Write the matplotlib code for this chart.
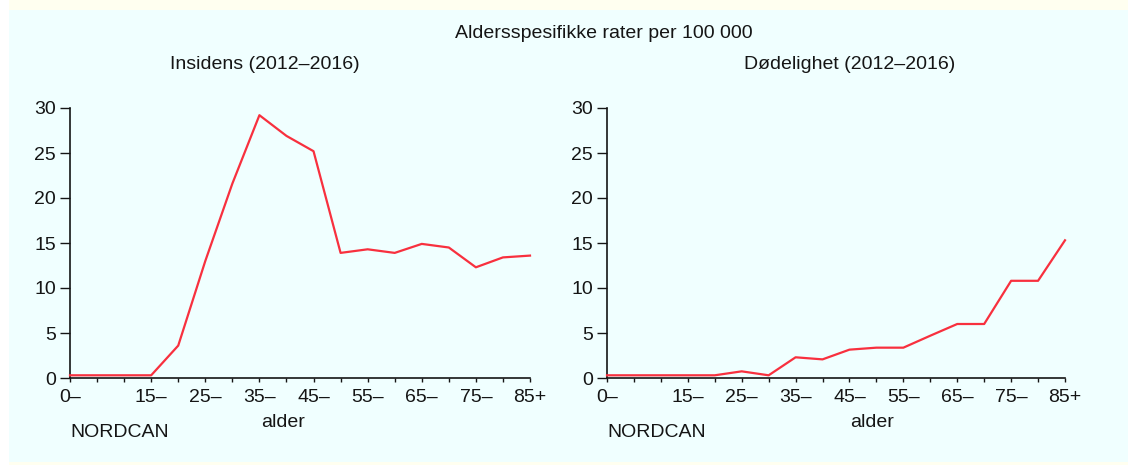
import matplotlib
matplotlib.use('Agg')
import matplotlib.pyplot as plt
from matplotlib.patches import Rectangle

plt.rcParams['font.family'] = ['Liberation Sans', 'DejaVu Sans']

# age groups 0-, 5-, ..., 80-, 85+
groups = ['0–', '5–', '10–', '15–', '20–', '25–', '30–', '35–', '40–', '45–',
          '50–', '55–', '60–', '65–', '70–', '75–', '80–', '85+']
shown = ['0–', '15–', '25–', '35–', '45–', '55–', '65–', '75–', '85+']

insidens = [0.3, 0.3, 0.3, 0.3, 3.6, 13.0, 21.6, 29.2, 26.9, 25.2,
            13.9, 14.3, 13.9, 14.9, 14.5, 12.3, 13.4, 13.6]
dodelighet = [0.3, 0.3, 0.3, 0.3, 0.3, 0.74, 0.3, 2.3, 2.07, 3.15,
              3.37, 3.37, 4.7, 6.0, 6.0, 10.8, 10.8, 15.3]

W, H = 1128, 465
fig = plt.figure(figsize=(W / 100, H / 100), dpi=100)
fig.patch.set_facecolor('white')

# background panels
fig.patches.append(Rectangle((9 / W, 0), 1, 1, transform=fig.transFigure,
                             facecolor='#fffff0', edgecolor='none', zorder=-3))
fig.patches.append(Rectangle((9 / W, (H - 462) / H), 1, (462 - 10) / H,
                             transform=fig.transFigure,
                             facecolor='#f0ffff', edgecolor='none', zorder=-2))

red = '#f8303e'
fs = 14
ink = '#151515'


def panel(x0, x1, data, alder_x):
    ax = fig.add_axes([x0 / W, (H - 378) / H, (x1 - x0) / W, (378 - 108) / H])
    ax.set_facecolor('none')
    x = list(range(len(groups)))
    ax.plot(x, data, color=red, lw=1.6, clip_on=False, zorder=3)
    ax.set_xlim(0, len(groups) - 1)
    ax.set_ylim(0, 30)
    for s in ['top', 'right']:
        ax.spines[s].set_visible(False)
    for s in ['left', 'bottom']:
        ax.spines[s].set_linewidth(1.2)
        ax.spines[s].set_color(ink)
    ax.set_yticks(range(0, 31, 5))
    ax.set_xticks(x)
    ax.set_xticklabels([g if g in shown else '' for g in groups])
    ax.tick_params(axis='both', direction='out', width=1,
                   labelsize=fs, colors=ink)
    ax.tick_params(axis='y', length=7, pad=3)
    ax.tick_params(axis='x', length=3, pad=5)
    ax.text((alder_x - x0) / (x1 - x0), (378 - 422) / 270, 'alder',
            transform=ax.transAxes, fontsize=fs, color=ink,
            ha='center', va='center')
    ax.text(0, (378 - 432) / 270, 'NORDCAN', transform=ax.transAxes,
            fontsize=fs, color=ink, va='center', ha='left')
    return ax


panel(70, 530, insidens, 283)
panel(607, 1065, dodelighet, 872)

fig.text(604 / W, 1 - 34 / H, 'Aldersspesifikke rater per 100 000',
         ha='center', va='center', fontsize=fs, color=ink)
fig.text(265 / W, 1 - 64 / H, 'Insidens (2012–2016)',
         ha='center', va='center', fontsize=fs, color=ink)
fig.text(850 / W, 1 - 64 / H, 'Dødelighet (2012–2016)',
         ha='center', va='center', fontsize=fs, color=ink)

fig.savefig('out.png', dpi=100)
